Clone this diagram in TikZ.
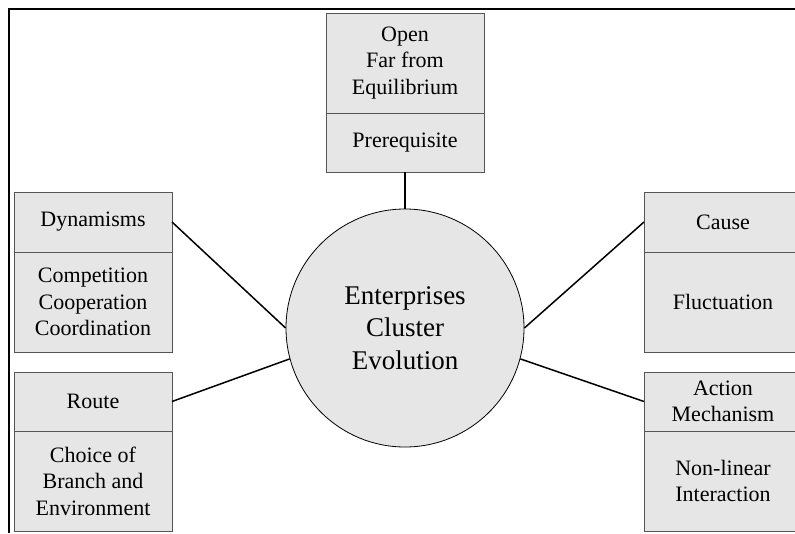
\documentclass[tikz,border=0pt]{standalone}
\usepackage{fontspec}
\setmainfont{Liberation Serif}
\usetikzlibrary{positioning}
\definecolor{cellgray}{RGB}{230,230,230}
\definecolor{edgegray}{RGB}{85,85,85}
\tikzset{
  cell/.style={draw=edgegray, fill=cellgray, line width=0.9pt, minimum width=158pt,
    inner sep=0pt, outer sep=0pt, align=center, font=\fontsize{22}{26.5}\selectfont},
  link/.style={line width=1.5pt},
}
\begin{document}
\begin{tikzpicture}[x=1pt, y=-1pt]
        \useasboundingbox (0,0) rectangle (795,533);
        \draw[line width=2pt] (9,533) -- (9,8.5) -- (795,8.5);

        \node[draw=black, fill=cellgray, circle, minimum size=238pt, inner sep=0pt, line width=0.8pt,
              align=center, font=\fontsize{27}{32.5}\selectfont] (evo) at (405,328) {Enterprises\\Cluster\\Evolution};

        \node[cell, minimum height=100pt] (open)   at (405,63) {Open\\Far from\\Equilibrium};
        \node[cell, minimum height=59pt, below=0pt of open] (prereq) {Prerequisite};

        \node[cell, minimum height=60pt] (dyn)    at (93,222) {Dynamisms};
        \node[cell, minimum height=100pt, below=0pt of dyn] (comp) {Competition\\Cooperation\\Coordination};

        \node[cell, minimum height=59pt] (route)  at (93,401.5) {Route};
        \node[cell, minimum height=100pt, below=0pt of route] (choice) {Choice of\\Branch and\\Environment};

        \node[cell, minimum height=60pt] (cause)  at (723,222) {Cause};
        \node[cell, minimum height=100pt, below=0pt of cause] (fluct) {Fluctuation};

        \node[cell, minimum height=59pt] (action) at (723,401.5) {Action\\Mechanism};
        \node[cell, minimum height=100pt, below=0pt of action] (nonlin) {Non-linear\\Interaction};

        \draw[link] (prereq) -- (evo);
        \draw[link] (dyn.east) -- (evo.west);
        \draw[link] (route.east) -- (evo.195);
        \draw[link] (cause.west) -- (evo.east);
        \draw[link] (action.west) -- (evo.-15);
\end{tikzpicture}
\end{document}
